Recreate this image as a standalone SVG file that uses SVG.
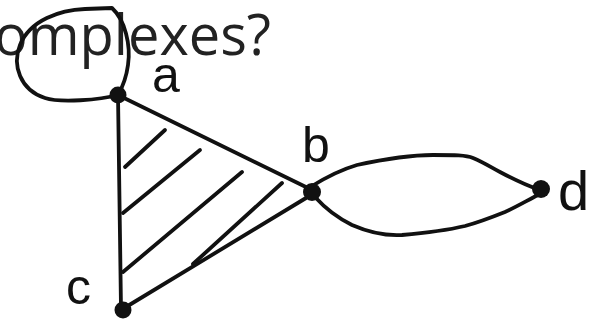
<svg xmlns="http://www.w3.org/2000/svg" width="612" height="324" viewBox="0 0 612 324">
<style>
.ln{fill:none;stroke:#111;stroke-width:3.8;stroke-linecap:round;stroke-linejoin:round}
.dot{fill:#111}
.lbl{font-family:"Liberation Sans",sans-serif;font-size:50px;fill:#111}
.title{font-family:"Open Sans","Liberation Sans",sans-serif;font-size:56px;fill:#222}
</style>
<rect width="612" height="324" fill="#fff"/>
<text class="title" x="-6" y="55">omplexes?</text>
<g id="connectors">
<path class="ln" d="M118,95 C100,100 60,103 45,98 C20,90 12,65 20,45 C30,20 60,10 85,9 L112,8 C125,20 131,45 128,65 C126,80 122,88 118,95"/>
<path class="ln" d="M118,95 L121,308"/>
<path class="ln" d="M120,96 L310,189"/>
<path class="ln" d="M126,307 L306,198"/>
<path class="ln" d="M312,186 C325,178 340,170 357,165 C380,160 410,155 433,155 C455,155 466,155 473,158 C485,163 492,168 500,172 C515,180 528,186 540,190"/>
<path class="ln" d="M316,198 C325,208 338,218 352,225 C368,232 385,236 402,235 C425,233 448,230 465,226 C480,222 495,216 505,212 C518,206 528,200 538,195"/>
<path class="ln" d="M125,167 L165,130"/>
<path class="ln" d="M123,213 L200,150"/>
<path class="ln" d="M123,272 L242,172"/>
<path class="ln" d="M193,264 L282,183"/>
</g>
<g id="a"><circle class="dot" cx="118" cy="95" r="8.5"/><text class="lbl" x="152" y="92">a</text></g>
<g id="b"><circle class="dot" cx="312" cy="192" r="9"/><text class="lbl" x="302" y="162">b</text></g>
<g id="c"><circle class="dot" cx="123" cy="310" r="8.5"/><text class="lbl" x="66" y="304">c</text></g>
<g id="d"><circle class="dot" cx="541" cy="189" r="9"/><text class="lbl" x="558" y="210" style="font-size:56px">d</text></g>
</svg>
